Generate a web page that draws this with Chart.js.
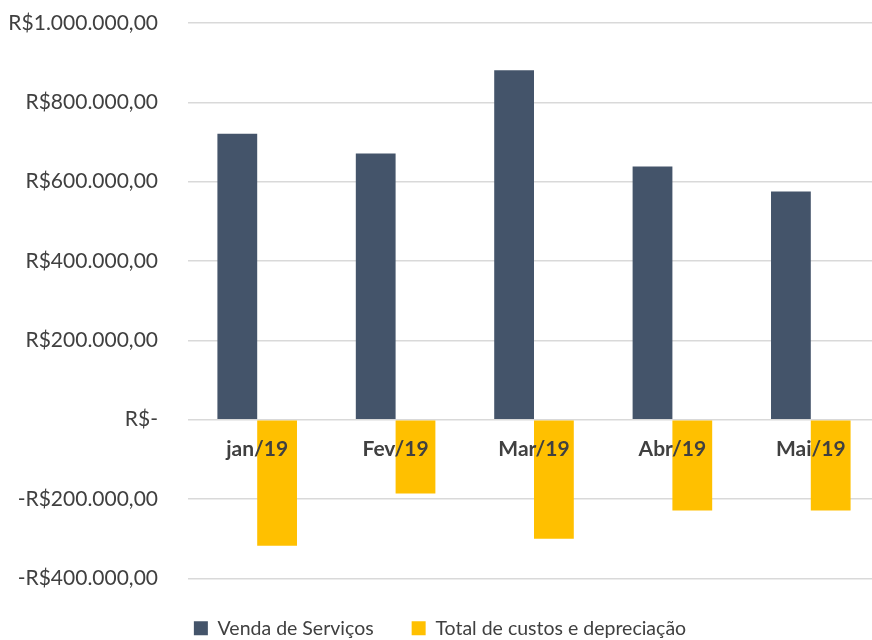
<!DOCTYPE html>
<html lang="pt-BR">
  <head>
    <meta charset="UTF-8" />
    <title>Vendas x Custos</title>
    <style>
      html, body { margin: 0; padding: 0; background: #fff; overflow: hidden; }
      .chart-box { width: 880px; height: 640px; }
    </style>
  </head>
  <body>
    <div class="chart-box">
      <canvas id="myChart"></canvas>
    </div>

    <script src="https://cdn.jsdelivr.net/npm/chart.js"></script>
    <script>
      const meses = ["jan/19", "Fev/19", "Mar/19", "Abr/19", "Mai/19"];
      const vendaServicos = [721000, 671000, 881000, 638000, 575000];
      const totalCustos = [-318000, -186000, -300000, -229000, -229000];
      const yTicks = [-400000, -200000, 0, 200000, 400000, 600000, 800000, 1000000];

      function formatReal(v) {
        if (v === 0) return "R$-";
        const s = Math.abs(v).toLocaleString("pt-BR", { minimumFractionDigits: 2, maximumFractionDigits: 2 });
        return (v < 0 ? "-" : "") + "R$" + s;
      }

      const ctx = document.getElementById("myChart");

      new Chart(ctx, {
        type: "bar",
        data: {
          labels: meses,
          datasets: [
            {
              label: "Venda de Serviços",
              data: vendaServicos,
              backgroundColor: "#44546A",
              barPercentage: 1,
              categoryPercentage: 0.575
            },
            {
              label: "Total de custos e depreciação",
              data: totalCustos,
              backgroundColor: "#FFC000",
              barPercentage: 1,
              categoryPercentage: 0.575
            }
          ]
        },
        options: {
          responsive: true,
          maintainAspectRatio: false,
          animation: false,
          layout: { padding: { top: 23, bottom: -8, left: 0, right: 0 } },
          plugins: {
            tooltip: { enabled: false },
            legend: {
              position: "bottom",
              // empty title only used as spacer above the items
              title: { display: true, text: "", font: { size: 1 }, padding: 0.5 },
              labels: {
                boxWidth: 14,
                boxHeight: 14,
                padding: 38,
                color: "#404040",
                font: { family: "Lato", size: 19.5 }
              }
            }
          },
          scales: {
            x: {
              position: { y: 0 },
              grid: { display: false },
              border: { display: false },
              ticks: {
                z: 1,
                color: "#404040",
                padding: 9,
                font: { family: "Lato", size: 21, weight: "bold" }
              }
            },
            y: {
              min: -400000,
              max: 1000000,
              afterFit: (scale) => {
                scale.width = 188;
                scale.paddingTop = 0;
                scale.paddingBottom = 0;
              },
              afterBuildTicks: (scale) => { scale.ticks = yTicks.map(v => ({ value: v })); },
              grid: { color: "#D9D9D9", lineWidth: 1.5, drawTicks: false },
              border: { display: false },
              ticks: {
                color: "#404040",
                padding: 30,
                font: { family: "Lato", size: 21 },
                callback: (v) => formatReal(v)
              }
            }
          }
        }
      });
    </script>
  </body>
</html>
